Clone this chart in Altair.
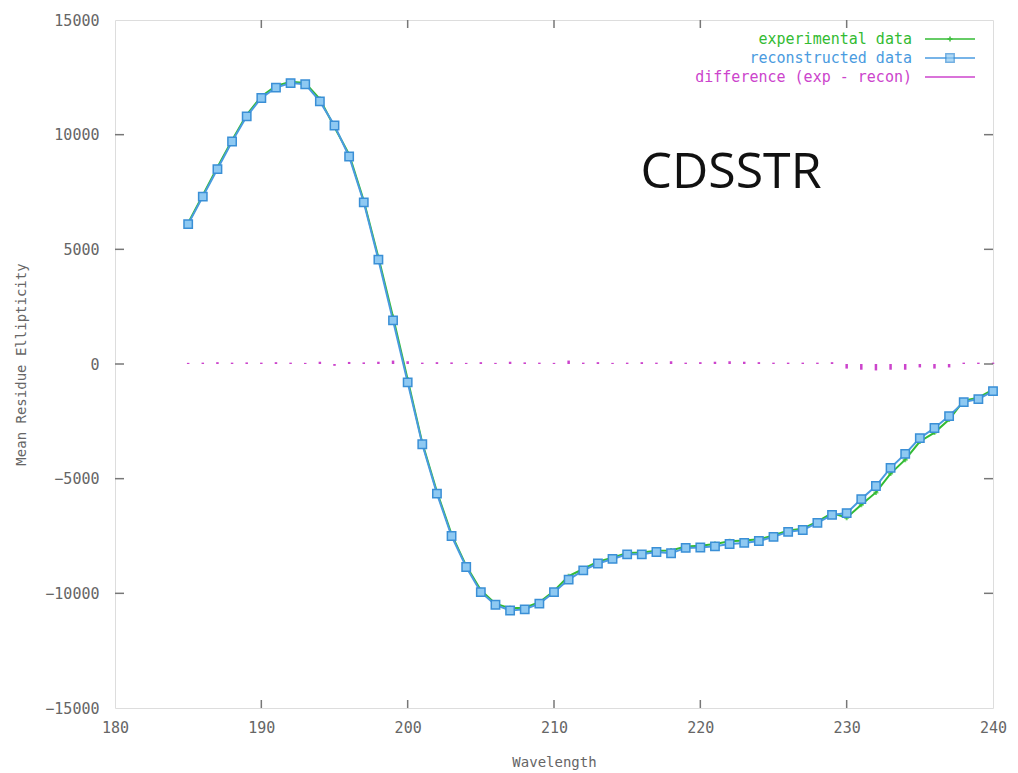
import altair as alt
import pandas as pd

wavelength = list(range(185, 241))
reconstructed = [
    6100, 7300, 8500, 9700, 10800, 11600, 12050, 12250, 12200, 11450,
    10400, 9050, 7050, 4550, 1900, -800, -3500, -5650, -7500, -8850,
    -9950, -10500, -10750, -10700, -10450, -9950, -9400, -9000, -8700, -8500,
    -8300, -8300, -8200, -8250, -8020, -8000, -7950, -7850, -7800, -7720,
    -7540, -7320, -7240, -6930, -6580, -6500, -5890, -5320, -4530, -3920,
    -3230, -2790, -2270, -1660, -1530, -1180,
]
difference = [
    50, 60, 80, 60, 70, 60, 80, 60, 50, 100,
    -80, 90, 70, 100, 150, 120, 60, 80, 70, 50,
    80, 50, 100, 70, 60, 50, 150, 60, 80, 50,
    60, 80, 60, 120, 60, 80, 100, 120, 100, 80,
    60, 60, 60, 60, 80, -200, -250, -280, -250, -250,
    -150, -200, -150, 60, 60, 60,
]
experimental = [r + d for r, d in zip(reconstructed, difference)]

x_ticks = [190, 200, 210, 220, 230]
y_ticks = [-10000, -5000, 0, 5000, 10000]
legend_labels = ["experimental data", "reconstructed data", "difference (exp - recon)"]
legend_colors = ["#33bb33", "#4a9be0", "#cc44cc"]

W, H = 878, 688
MONO = "DejaVu Sans Mono"
GRAY = "#666666"

df = pd.DataFrame({
    "wl": wavelength,
    "rec": reconstructed,
    "exp": experimental,
    "diff": difference,
    "zero": [0] * len(wavelength),
})

xs = alt.Scale(domain=[180, 240], nice=False, zero=False)
ys = alt.Scale(domain=[-15000, 15000], nice=False)

x_axis = alt.Axis(values=[180, 190, 200, 210, 220, 230, 240], format="d", ticks=False,
                  domain=False, grid=False, labelFont=MONO, labelFontSize=15,
                  labelColor=GRAY, labelPadding=12, labelFlush=False, title="Wavelength",
                  titleFont=MONO, titleFontSize=14, titleColor=GRAY,
                  titleFontWeight="normal", titlePadding=20)
y_axis = alt.Axis(values=[-15000, -10000, -5000, 0, 5000, 10000, 15000], format="d",
                  ticks=False, domain=False, grid=False, labelFont=MONO,
                  labelFontSize=15, labelColor=GRAY, labelPadding=16, labelFlush=False,
                  title="Mean Residue Ellipticity", titleFont=MONO, titleFontSize=14,
                  titleColor=GRAY, titleFontWeight="normal", titlePadding=16)

base = alt.Chart(df)

exp_line = base.mark_line(color=legend_colors[0], strokeWidth=2).encode(
    x=alt.X("wl:Q", scale=xs, axis=x_axis),
    y=alt.Y("exp:Q", scale=ys, axis=y_axis),
)
exp_pts = base.mark_point(shape="cross", color=legend_colors[0], filled=True, size=25).encode(
    x=alt.X("wl:Q", scale=xs), y=alt.Y("exp:Q", scale=ys))
rec_line = base.mark_line(color=legend_colors[1], strokeWidth=2).encode(
    x=alt.X("wl:Q", scale=xs), y=alt.Y("rec:Q", scale=ys))
rec_pts = base.mark_point(shape="square", fill="#8ec9f2", stroke="#3a8fd6",
                          filled=False, fillOpacity=1, strokeWidth=1.5, size=70).encode(
    x=alt.X("wl:Q", scale=xs), y=alt.Y("rec:Q", scale=ys))
diff_rules = base.mark_rule(color=legend_colors[2], strokeWidth=2.5).encode(
    x=alt.X("wl:Q", scale=xs), y=alt.Y("zero:Q", scale=ys), y2="diff:Q")

xt = pd.DataFrame({"v": x_ticks})
yt = pd.DataFrame({"v": y_ticks})
xtick_bottom = alt.Chart(xt).mark_rule(color="#777", strokeWidth=1.5).encode(
    x=alt.X("v:Q", scale=xs), y=alt.value(H), y2=alt.value(H - 8))
xtick_top = alt.Chart(xt).mark_rule(color="#777", strokeWidth=1.5).encode(
    x=alt.X("v:Q", scale=xs), y=alt.value(0), y2=alt.value(8))
ytick_left = alt.Chart(yt).mark_rule(color="#777", strokeWidth=1.5).encode(
    y=alt.Y("v:Q", scale=ys), x=alt.value(0), x2=alt.value(9))
ytick_right = alt.Chart(yt).mark_rule(color="#777", strokeWidth=1.5).encode(
    y=alt.Y("v:Q", scale=ys), x=alt.value(W - 9), x2=alt.value(W))

layers = [diff_rules, exp_line, rec_line, exp_pts, rec_pts,
          xtick_bottom, xtick_top, ytick_left, ytick_right]

leg_y = [19, 38, 57]
for lab, col, yy in zip(legend_labels, legend_colors, leg_y):
    d = pd.DataFrame({"t": [lab]})
    layers.append(alt.Chart(d).mark_text(align="right", baseline="middle", font=MONO,
                                         fontSize=15, color=col).encode(
        text="t:N", x=alt.value(797), y=alt.value(yy)))
    layers.append(alt.Chart(d).mark_rule(color=col, strokeWidth=1.5).encode(
        x=alt.value(810), x2=alt.value(860), y=alt.value(yy)))
layers.append(alt.Chart(pd.DataFrame({"t": ["+"]})).mark_point(
    shape="cross", color=legend_colors[0], filled=True, size=25).encode(
    x=alt.value(835), y=alt.value(leg_y[0])))
layers.append(alt.Chart(pd.DataFrame({"t": ["s"]})).mark_point(
    shape="square", fill="#8ec9f2", stroke="#3a8fd6", strokeWidth=1.5, size=70).encode(
    x=alt.value(835), y=alt.value(leg_y[1])))

layers.append(alt.Chart(pd.DataFrame({"t": ["CDSSTR"]})).mark_text(
    align="center", baseline="middle", font="Open Sans", fontSize=50, color="#111111").encode(
    text="t:N", x=alt.value(616), y=alt.value(153)))

chart = alt.layer(*layers).properties(
    width=W, height=H,
    autosize=alt.AutoSizeParams(type="none"),
    padding={"left": 115, "top": 20, "right": 25, "bottom": 65},
).configure_view(stroke="#888888", strokeWidth=2).configure(background="white")

chart.save("out.html", embed_options={"renderer": "svg", "actions": False})
